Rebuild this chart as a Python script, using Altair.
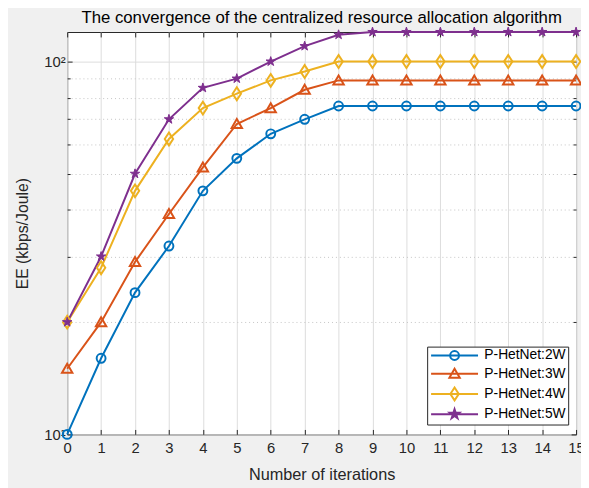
import altair as alt
import pandas as pd

# ---------------- data ----------------
iterations = list(range(16))
series_names = ["P-HetNet:2W", "P-HetNet:3W", "P-HetNet:4W", "P-HetNet:5W"]
ee_2w = [10, 16, 24, 32, 45, 55, 64, 70, 76, 76, 76, 76, 76, 76, 76, 76]
ee_3w = [15, 20, 29, 39, 52, 68, 75, 84, 89, 89, 89, 89, 89, 89, 89, 89]
ee_4w = [20, 28, 45, 62, 75, 82, 89, 94, 100, 100, 100, 100, 100, 100, 100, 100]
ee_5w = [20, 30, 50, 70, 85, 90, 100, 110, 118, 120, 120, 120, 120, 120, 120, 120]
x_ticks = list(range(16))
y_ticks = [10, 20, 30, 40, 50, 60, 70, 80, 90, 100]
colors = ["#0072BD", "#D95319", "#EDB120", "#7E2F8E"]

rows = []
for name, vals in zip(series_names, [ee_2w, ee_3w, ee_4w, ee_5w]):
    for it, v in zip(iterations, vals):
        rows.append({"iteration": it, "EE": v, "series": name})
df = pd.DataFrame(rows)

# ---------------- style ----------------
W, H = 516, 408
FONT = "Liberation Sans"
AX = "#262626"

def circle(cx, r=0.9):
    return f"M{cx - r},0A{r},{r} 0 1,1 {cx + r},0A{r},{r} 0 1,1 {cx - r},0Z"

def triangle(cx):
    return f"M{cx},-1L{cx + 1.05},0.82L{cx - 1.05},0.82Z"

def diamond(cx):
    return f"M{cx},-1.3L{cx + 0.85},0L{cx},1.3L{cx - 0.85},0Z"

def star(cx):
    pts = [(0, -1), (0.2245, -0.309), (0.951, -0.309), (0.363, 0.118), (0.588, 0.809),
           (0, 0.382), (-0.588, 0.809), (-0.363, 0.118), (-0.951, -0.309), (-0.2245, -0.309)]
    return "M" + "L".join(f"{cx + x:.4f},{y}" for x, y in pts) + "Z"

marker_fns = [circle, triangle, diamond, star]
CX = 3.76
legend_paths = [f"M-1,0H8.52" + fn(CX) for fn in marker_fns]
fill_range = ["transparent", "transparent", "transparent", colors[3]]

x_scale = alt.Scale(domain=[0, 15], nice=False, zero=False)
y_scale = alt.Scale(type="log", domain=[10, 120], nice=False)

base = alt.Chart(df)

major_test = "datum.value == 10 || datum.value == 100"
y_tick_len = {"expr": "datum.value == 10 || datum.value == 100 ? -5 : -3"}
x_tick_len = {"expr": "-5"}

x_main = alt.Axis(
    values=x_ticks, orient="bottom", title="Number of iterations", format="d",
    labelFont=FONT, labelFontSize=15, labelColor=AX, labelPadding=11, labelAngle=0,
    labelFlush=False, ticks=True, tickSize=x_tick_len, tickColor=AX, domain=False,
    grid=True, gridColor="#dcdcdc", gridWidth=1,
    titleFont=FONT, titleFontSize=16.5, titleFontWeight="normal", titleColor=AX,
    titleY=46, titleBaseline="alphabetic",
)
y_main = alt.Axis(
    values=y_ticks, orient="left", title="EE (kbps/Joule)",
    labelExpr="datum.value == 10 ? '10¹' : (datum.value == 100 ? '10²' : '')",
    labelFont=FONT, labelFontSize=15, labelColor=AX, labelPadding=7, labelOverlap=False,
    ticks=True, tickSize=y_tick_len, tickColor=AX, domain=False, grid=True,
    gridColor={"condition": {"test": major_test, "value": "#dcdcdc"}, "value": "#c4c4c4"},
    gridDash={"condition": {"test": major_test, "value": []}, "value": [1, 3]},
    titleFont=FONT, titleFontSize=16, titleFontWeight="normal", titleColor=AX,
    titleX=-45, titleY=H / 2, titleBaseline="middle", titleAngle=270, titleAlign="center",
)

layers = []
for i, name in enumerate(series_names):
    sub = base.transform_filter(alt.datum.series == name)
    first = (i == 0)
    layers.append(
        sub.mark_line(strokeWidth=2, color=colors[i]).encode(
            x=alt.X("iteration:Q", scale=x_scale, axis=(x_main if first else None)),
            y=alt.Y("EE:Q", scale=y_scale, axis=(y_main if first else None)),
        )
    )
for i, name in enumerate(series_names):
    sub = base.transform_filter(alt.datum.series == name)
    filled = (i == 3)
    mk = dict(shape=marker_fns[i](0), size=100, opacity=1, filled=filled,
              strokeWidth=(1 if filled else 2), color=colors[i])
    if filled:
        mk["stroke"] = colors[i]
    layers.append(
        sub.mark_point(**mk).encode(
            x=alt.X("iteration:Q", scale=x_scale, axis=None),
            y=alt.Y("EE:Q", scale=y_scale, axis=None),
        )
    )

leg = alt.Legend(
    title=None, orient="none", legendX=365, legendY=319,
    fillColor="white", strokeColor=AX, padding=2,
    labelFont=FONT, labelFontSize=14, labelColor="#000000", labelOffset=42,
    symbolSize=100, symbolStrokeWidth=2, rowPadding=0.5,
)
legend_layer = base.transform_filter("false").mark_point(
    size=100, strokeWidth=2, filled=False, opacity=1
).encode(
    x=alt.X("iteration:Q", scale=x_scale, axis=None),
    y=alt.Y("EE:Q", scale=y_scale, axis=None),
    color=alt.Color("series:N", scale=alt.Scale(domain=series_names, range=colors), legend=leg),
    shape=alt.Shape("series:N", scale=alt.Scale(domain=series_names, range=legend_paths), legend=leg),
    fill=alt.Fill("series:N", scale=alt.Scale(domain=series_names, range=fill_range), legend=leg),
)
layers.append(legend_layer)

# inward ticks on the top and right edges of the box
tick_layer = base.transform_filter("false").mark_point(opacity=0).encode(
    x=alt.X("iteration:Q", scale=x_scale, axis=alt.Axis(
        orient="top", values=x_ticks, labels=False, domain=False, grid=False,
        ticks=True, tickSize=x_tick_len, tickColor=AX, title=None)),
    y=alt.Y("EE:Q", scale=y_scale, axis=alt.Axis(
        orient="right", values=y_ticks, labels=False, domain=False, grid=False,
        ticks=True, tickSize=y_tick_len, tickColor=AX, title=None)),
)
layers.append(tick_layer)

chart = alt.layer(*layers).resolve_axis(
    x="independent", y="independent"
).properties(
    width=W, height=H,
    autosize=alt.AutoSizeParams(type="none"),
    padding={"left": 60, "top": 21, "right": 5, "bottom": 51},
    background="#f0f0f0",
    title=alt.Title(
        "The convergence of the centralized resource allocation algorithm",
        font=FONT, fontSize=17, fontWeight="normal", color="#000000",
        anchor="middle", frame="group", baseline="alphabetic", offset=7, dy=22,
    ),
).configure_view(fill="white", stroke=AX, strokeWidth=1)

chart.save("out.html", embed_options={"renderer": "svg", "actions": False})
